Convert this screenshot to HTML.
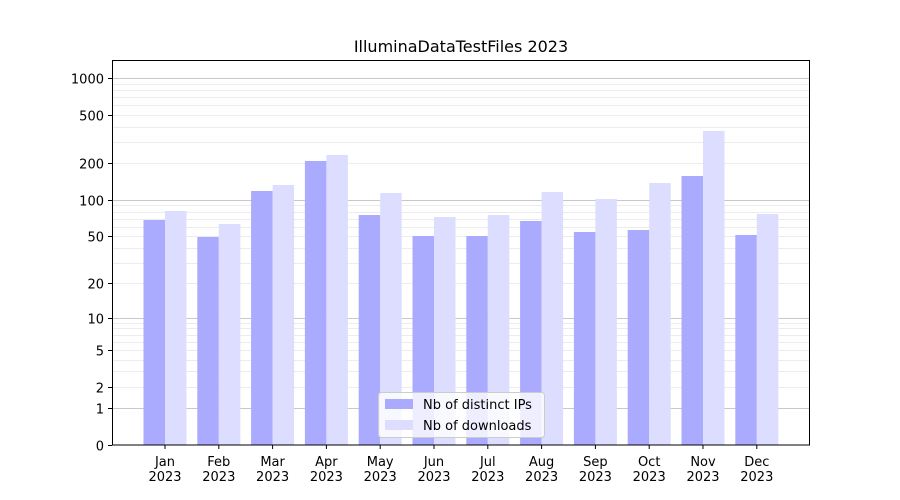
<!DOCTYPE html>
<html><head><meta charset="utf-8"><style>body{margin:0;background:#fff}svg{display:block}text{font-family:"DejaVu Sans","Liberation Sans",sans-serif;font-size:13px;fill:#000}</style></head>
<body>
<svg width="900" height="500" viewBox="0 0 900 500">
<rect width="900" height="500" fill="#fff"/>
<g id="grid" stroke-width="1"></g>
<g id="bars"></g>
<rect x="112.5" y="60.5" width="697" height="384.5" fill="none" stroke="#000" stroke-width="1"/>
<g id="ticks"></g>
<text x="461" y="52" text-anchor="middle" font-size="16" style="font-size:16px">IlluminaDataTestFiles 2023</text>
<g>
<rect x="378.5" y="392.5" width="166" height="45" rx="3" fill="#fff" fill-opacity="0.8" stroke="#ccc"/>
<rect x="385" y="399" width="28" height="10" fill="#aaaaff"/>
<rect x="385" y="420" width="28" height="10" fill="#ddddff"/>
<text x="423" y="409">Nb of distinct IPs</text>
<text x="423" y="430">Nb of downloads</text>
</g>
</svg>
<script>
const Y=v=>445-122.3*Math.log10(v+1);
const ns="http://www.w3.org/2000/svg";
function el(p,t,a,txt){const e=document.createElementNS(ns,t);for(const k in a)e.setAttribute(k,a[k]);if(txt!==undefined)e.textContent=txt;p.appendChild(e);return e;}
const g=document.getElementById('grid');
[1,10,100,1000].forEach(d=>{for(let m=1;m<10;m++){const v=d*m;if(v>1300)break;const y=Math.round(Y(v))+0.5;
el(g,'line',{x1:113,x2:809,y1:y,y2:y,stroke:m==1?'#c8c8c8':'#ececec'});}});
const b=document.getElementById('bars');
const blue=[220,237,191,161,215,236,236,221,232,230,176,235];
const light=[211,224,185,155,193,217,215,192,199,183,131,214];
const mon=['Jan','Feb','Mar','Apr','May','Jun','Jul','Aug','Sep','Oct','Nov','Dec'];
const t=document.getElementById('ticks');
for(let i=0;i<12;i++){const c=165+i*53.8;
el(b,'rect',{x:c-21.5,y:blue[i],width:21.5,height:445-blue[i],fill:'#aaaaff'});
el(b,'rect',{x:c,y:light[i],width:21.5,height:445-light[i],fill:'#ddddff'});
el(t,'line',{x1:c,x2:c,y1:445,y2:449,stroke:'#000'});
el(t,'text',{x:c,y:466,'text-anchor':'middle'},mon[i]);
el(t,'text',{x:c,y:481,'text-anchor':'middle'},'2023');}
[0,1,2,5,10,20,50,100,200,500,1000].forEach(v=>{const y=Math.round(Y(v))+0.5;
el(t,'line',{x1:108,x2:112,y1:y,y2:y,stroke:'#000'});
el(t,'text',{x:104,y:y+5,'text-anchor':'end'},String(v));});
</script>
</body></html>
